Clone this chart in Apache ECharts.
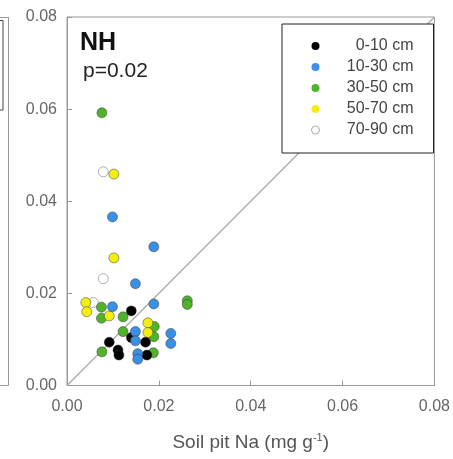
<!DOCTYPE html>
<html>
<head>
<meta charset="utf-8">
<script src="https://cdn.jsdelivr.net/npm/echarts@6/dist/echarts.min.js"></script>
<style>html,body{margin:0;padding:0;background:#fff}#c{width:453px;height:459px}</style>
</head>
<body>
<div id="c"></div>
<script>
var legendNames = ['0-10 cm', '10-30 cm', '30-50 cm', '50-70 cm', '70-90 cm'];
var xTicks = [0, 0.02, 0.04, 0.06, 0.08];
var yTicks = [0, 0.02, 0.04, 0.06, 0.08];
// [soil pit Na, y value]
var d0_10 = [[0.0140,0.0162],[0.0140,0.0104],[0.0171,0.0094],[0.0092,0.0094],[0.0111,0.0077],[0.0113,0.0066],[0.0174,0.0066]];
var d10_30 = [[0.0099,0.0366],[0.0189,0.0301],[0.0149,0.0221],[0.0099,0.0171],[0.0189,0.0177],[0.0149,0.0117],[0.0149,0.0097],[0.0226,0.0113],[0.0226,0.0091],[0.0154,0.0069],[0.0154,0.0057]];
var d30_50 = [[0.0076,0.0592],[0.0075,0.0170],[0.0262,0.0184],[0.0262,0.0176],[0.0075,0.0146],[0.0122,0.0149],[0.0190,0.0128],[0.0122,0.0117],[0.0189,0.0106],[0.0076,0.0073],[0.0188,0.0071]];
var d50_70 = [[0.0102,0.0459],[0.0102,0.0277],[0.0041,0.0180],[0.0043,0.0160],[0.0092,0.0151],[0.0176,0.0136],[0.0176,0.0115]];
var d70_90 = [[0.0079,0.0464],[0.0079,0.0232],[0.0057,0.0180]];
var oneToOne = [[0, 0], [0.08, 0.08]];
var title = 'NH';
var pText = 'p=0.02';

var colors = ['#000000', '#3a8fe6', '#4fb42a', '#f2ee10', '#ffffff'];
var datas = [d0_10, d10_30, d30_50, d50_70, d70_90];
var zs = [4, 5, 3, 3.5, 2];
var FONT = 'Liberation Sans, Arial, sans-serif';

var series = [{
  type: 'line', data: oneToOne, symbol: 'none', silent: true,
  lineStyle: {color: '#aaaaaa', width: 1.3}, z: 1
}];
legendNames.forEach(function (n, i) {
  series.push({
    name: n, type: 'scatter', data: datas[i], symbolSize: 10, z: zs[i],
    itemStyle: {color: colors[i], borderColor: i === 4 ? '#999' : 'rgba(50,50,50,0.6)', borderWidth: 0.8, opacity: 1}
  });
});

var legendData = legendNames.map(function (n, i) {
  return {name: n, itemStyle: {borderWidth: i === 4 ? 1 : 0, borderColor: '#aaa'}};
});

var chart = echarts.init(document.getElementById('c'));
chart.setOption({
  animation: false,
  textStyle: {fontFamily: FONT},
  grid: {left: 67, right: 16, top: 17, bottom: 73.5, show: true, borderColor: '#999', borderWidth: 1},
  xAxis: {
    type: 'value', min: 0, max: 0.08, interval: 0.02,
    name: 'Soil pit Na (mg g{s|-1})', nameLocation: 'middle', nameGap: 47,
    nameTextStyle: {fontSize: 19, color: '#555', fontFamily: FONT, rich: {s: {fontSize: 11, verticalAlign: 'top', padding: [0, 0, 10, 0], color: '#555'}}},
    axisLine: {lineStyle: {color: '#999'}},
    axisTick: {inside: true, length: 5, lineStyle: {color: '#999'}},
    axisLabel: {fontSize: 16, color: '#666', margin: 13, formatter: function (v) { return v.toFixed(2); }},
    splitLine: {show: false}
  },
  yAxis: {
    type: 'value', min: 0, max: 0.08, interval: 0.02,
    axisLine: {show: true, lineStyle: {color: '#999'}},
    axisTick: {show: true, inside: true, length: 5, lineStyle: {color: '#999'}},
    axisLabel: {fontSize: 16, color: '#666', margin: 10, formatter: function (v) { return v.toFixed(2); }},
    splitLine: {show: false}
  },
  legend: {
    data: legendData, orient: 'vertical', left: 282, top: 24,
    padding: [14, 20, 15, 29], itemGap: 5, itemWidth: 8, itemHeight: 8, itemTextGap: 5,
    borderColor: '#222', borderWidth: 1, backgroundColor: '#fff',
    icon: 'circle',
    formatter: function (n) { return '{a|' + n + '}'; },
    textStyle: {fontSize: 16, color: '#444', rich: {a: {width: 89, align: 'right', fontSize: 16, color: '#444', fontFamily: FONT}}}
  },
  graphic: [
    {type: 'text', left: 80, top: 31, style: {text: title, font: 'bold 25px ' + FONT, fill: '#111'}},
    {type: 'text', left: 83, top: 61, style: {text: pText, font: '21px ' + FONT, fill: '#222'}},
    {type: 'line', shape: {x1: 8.5, y1: 17, x2: 8.5, y2: 385.5}, style: {stroke: '#999', lineWidth: 1}},
    {type: 'line', shape: {x1: 0, y1: 17.5, x2: 8.5, y2: 17.5}, style: {stroke: '#999', lineWidth: 1}},
    {type: 'line', shape: {x1: 0, y1: 385.5, x2: 8.5, y2: 385.5}, style: {stroke: '#999', lineWidth: 1}},
    {type: 'rect', shape: {x: -10, y: 20.5, width: 13, height: 89.5}, style: {fill: 'none', stroke: '#444', lineWidth: 1}}
  ],
  series: series
});
</script>
</body>
</html>
